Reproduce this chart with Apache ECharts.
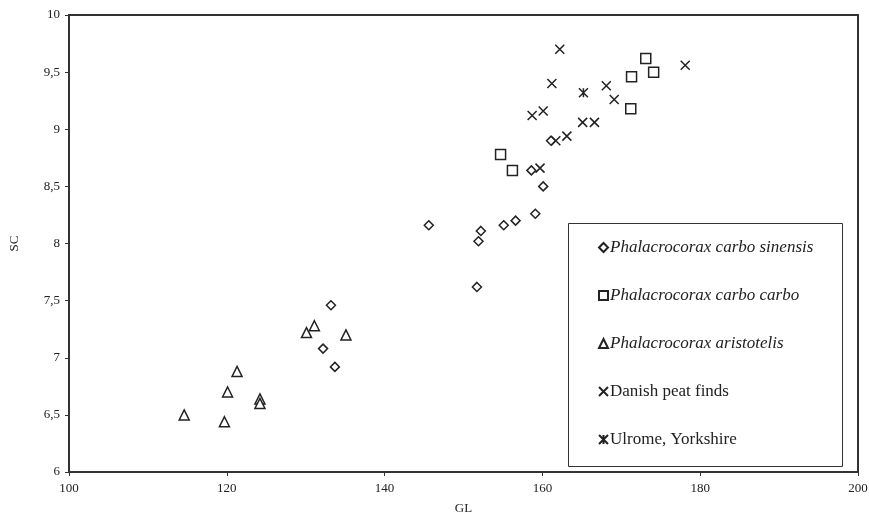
<!DOCTYPE html>
<html>
<head>
<meta charset="utf-8">
<script src="https://cdn.jsdelivr.net/npm/echarts@6/dist/echarts.min.js"></script>
<style>
  html, body { margin: 0; padding: 0; background: #fff; }
  #chart { width: 869px; height: 522px; }
</style>
</head>
<body>
<div id="chart"></div>
<script>
// data: [GL, SC]
const sinensis = [
    [133.2, 7.46], [132.2, 7.08], [133.7, 6.92], [145.6, 8.16], [151.7, 7.62],
    [151.9, 8.02], [152.2, 8.11], [155.1, 8.16], [156.6, 8.20], [159.1, 8.26],
    [160.1, 8.50], [158.6, 8.64], [161.1, 8.90]
];
const carbo = [
    [154.7, 8.78], [156.2, 8.64], [171.2, 9.18], [171.3, 9.46], [173.1, 9.62],
    [174.1, 9.50]
];
const aristotelis = [
    [114.6, 6.50], [119.7, 6.44], [120.1, 6.70], [121.3, 6.88], [124.2, 6.64],
    [124.2, 6.60], [130.1, 7.22], [131.1, 7.28], [135.1, 7.20]
];
const danish = [
    [162.2, 9.70], [161.2, 9.40], [158.7, 9.12], [160.1, 9.16], [168.1, 9.38],
    [169.1, 9.26], [165.1, 9.06], [166.6, 9.06], [163.1, 8.94], [161.7, 8.90],
    [159.7, 8.66], [178.1, 9.56]
];
const ulrome = [
    [165.2, 9.32]
];
const seriesNames = [
    'Phalacrocorax carbo sinensis',
    'Phalacrocorax carbo carbo',
    'Phalacrocorax aristotelis',
    'Danish peat finds',
    'Ulrome, Yorkshire'
];
const italicNames = seriesNames.slice(0, 3);

const font = '"Liberation Serif", "DejaVu Serif", serif';
const ink = '#222';

const crossPath = 'path://M0,0L10,10M10,0L0,10';
const starPath = 'path://M0,0L10,10M10,0L0,10M5,0L5,10';

function scatter(name, data, symbol, size) {
    return {
        name: name,
        type: 'scatter',
        data: data,
        symbol: symbol,
        symbolSize: size,
        itemStyle: {
            color: '#fff',
            borderColor: ink,
            borderWidth: 1.5,
            opacity: 1
        },
        emphasis: { disabled: true }
    };
}

const chart = echarts.init(document.getElementById('chart'));
chart.setOption({
    animation: false,
    backgroundColor: '#fff',
    grid: {
        left: 69,
        right: 11,
        top: 15,
        bottom: 50,
        containLabel: false,
        outerBoundsMode: 'none',
        show: true,
        borderColor: '#333',
        borderWidth: 2
    },
    xAxis: {
        type: 'value',
        min: 100,
        max: 200,
        interval: 20,
        name: 'GL',
        nameLocation: 'middle',
        nameGap: 30,
        nameTextStyle: { fontFamily: font, fontSize: 13, color: ink },
        axisLine: { lineStyle: { color: '#333', width: 2 } },
        axisTick: { show: true, length: 4, lineStyle: { color: '#333' } },
        axisLabel: { fontFamily: font, fontSize: 13, color: ink, margin: 10 },
        splitLine: { show: false }
    },
    yAxis: {
        type: 'value',
        min: 6,
        max: 10,
        interval: 0.5,
        name: 'SC',
        nameLocation: 'middle',
        nameGap: 48,
        nameRotate: 90,
        nameTextStyle: { fontFamily: font, fontSize: 13, color: ink },
        axisLine: { lineStyle: { color: '#333', width: 2 } },
        axisTick: { show: true, length: 4, lineStyle: { color: '#333' } },
        axisLabel: {
            fontFamily: font, fontSize: 13, color: ink, margin: 9,
            formatter: v => String(v).replace('.', ',')
        },
        splitLine: { show: false }
    },
    graphic: [{
        type: 'rect',
        left: 568,
        top: 223,
        shape: { width: 274, height: 243 },
        style: { fill: '#fff', stroke: '#333', lineWidth: 1 },
        z: 5
    }],
    legend: {
        orient: 'vertical',
        left: 593,
        top: 234,
        itemGap: 31,
        itemWidth: 9,
        itemHeight: 9,
        z: 10,
        selectedMode: false,
        data: seriesNames,
        formatter: name => italicNames.includes(name) ? '{i|' + name + '}' : '{n|' + name + '}',
        textStyle: {
            fontFamily: font,
            fontSize: 17,
            color: ink,
            padding: [0, 0, 0, -3],
            rich: {
                i: { fontFamily: font, fontSize: 17, fontStyle: 'italic', color: ink },
                n: { fontFamily: font, fontSize: 17, color: ink }
            }
        }
    },
    series: [
        scatter(seriesNames[0], sinensis, 'diamond', 9),
        scatter(seriesNames[1], carbo, 'rect', 10),
        scatter(seriesNames[2], aristotelis, 'triangle', 10),
        scatter(seriesNames[3], danish, crossPath, 9),
        scatter(seriesNames[4], ulrome, starPath, 9)
    ]
});
</script>
</body>
</html>
